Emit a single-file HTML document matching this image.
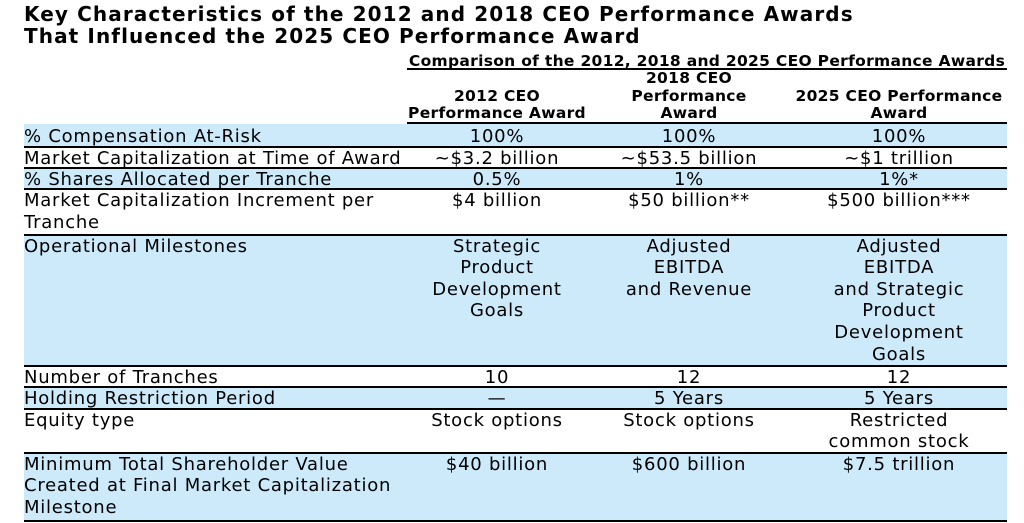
<!DOCTYPE html>
<html>
<head>
<meta charset="utf-8">
<style>
  html,body{margin:0;padding:0;background:#fff;}
  #c{position:relative;width:1024px;height:523px;overflow:hidden;background:#fff;
     font-family:"DejaVu Sans","Liberation Sans",sans-serif;color:#000;}
  .title{position:absolute;left:24px;top:4px;font-size:20px;font-weight:bold;
     line-height:21.6px;letter-spacing:1.1px;white-space:nowrap;}
  .hdr{position:absolute;font-size:15.5px;font-weight:bold;line-height:17.3px;
     letter-spacing:0.3px;white-space:nowrap;text-align:center;}
  .row{position:absolute;left:24px;width:983px;}
  .blue{background:#cdeafb;}
  .cell{position:absolute;top:1.2px;font-size:18px;line-height:21.6px;letter-spacing:0.75px;
     white-space:nowrap;}
  .lab{left:0px;}
  .c1{left:383px;width:180px;text-align:center;}
  .c2{left:563px;width:204px;text-align:center;}
  .c3{left:767px;width:216px;text-align:center;}
  .ln{position:absolute;height:2px;background:#000;}
</style>
</head>
<body>
<div id="c">
  <div class="title">Key Characteristics of the 2012 and 2018 CEO Performance Awards<br>That Influenced the 2025 CEO Performance Award</div>

  <div class="hdr" style="left:407px;width:600px;top:52.7px;">Comparison of the 2012, 2018 and 2025 CEO Performance Awards</div>
  <div class="ln" style="left:407px;width:600px;top:68.3px;"></div>

  <div class="hdr" style="left:407px;width:180px;top:70.3px;">&nbsp;<br>2012 CEO<br>Performance Award</div>
  <div class="hdr" style="left:587px;width:204px;top:70.3px;">2018 CEO<br>Performance<br>Award</div>
  <div class="hdr" style="left:791px;width:216px;top:70.3px;">&nbsp;<br>2025 CEO Performance<br>Award</div>
  <div class="ln" style="left:407px;width:600px;top:122.3px;"></div>

  <!-- Row 1 -->
  <div class="row blue" style="top:124.3px;height:22.7px;">
    <div class="cell lab" style="top:1.4px;">% Compensation At-Risk</div>
    <div class="cell c1" style="top:1.4px;">100%</div>
    <div class="cell c2" style="top:1.4px;">100%</div>
    <div class="cell c3" style="top:1.4px;">100%</div>
  </div>
  <!-- Row 2 -->
  <div class="row" style="top:147px;height:21px;">
    <div class="cell lab">Market Capitalization at Time of Award</div>
    <div class="cell c1">~$3.2 billion</div>
    <div class="cell c2">~$53.5 billion</div>
    <div class="cell c3">~$1 trillion</div>
  </div>
  <!-- Row 3 -->
  <div class="row blue" style="top:168px;height:21px;">
    <div class="cell lab">% Shares Allocated per Tranche</div>
    <div class="cell c1">0.5%</div>
    <div class="cell c2">1%</div>
    <div class="cell c3">1%*</div>
  </div>
  <!-- Row 4 -->
  <div class="row" style="top:189px;height:45.5px;">
    <div class="cell lab">Market Capitalization Increment per<br>Tranche</div>
    <div class="cell c1">$4 billion</div>
    <div class="cell c2">$50 billion**</div>
    <div class="cell c3">$500 billion***</div>
  </div>
  <!-- Row 5 -->
  <div class="row blue" style="top:234.5px;height:131.2px;">
    <div class="cell lab">Operational Milestones</div>
    <div class="cell c1">Strategic<br>Product<br>Development<br>Goals</div>
    <div class="cell c2">Adjusted<br>EBITDA<br>and Revenue</div>
    <div class="cell c3">Adjusted<br>EBITDA<br>and Strategic<br>Product<br>Development<br>Goals</div>
  </div>
  <!-- Row 6 -->
  <div class="row" style="top:365.7px;height:20.8px;">
    <div class="cell lab">Number of Tranches</div>
    <div class="cell c1">10</div>
    <div class="cell c2">12</div>
    <div class="cell c3">12</div>
  </div>
  <!-- Row 7 -->
  <div class="row blue" style="top:386.5px;height:22px;">
    <div class="cell lab">Holding Restriction Period</div>
    <div class="cell c1">—</div>
    <div class="cell c2">5 Years</div>
    <div class="cell c3">5 Years</div>
  </div>
  <!-- Row 8 -->
  <div class="row" style="top:408.5px;height:44.2px;">
    <div class="cell lab">Equity type</div>
    <div class="cell c1">Stock options</div>
    <div class="cell c2">Stock options</div>
    <div class="cell c3">Restricted<br>common stock</div>
  </div>
  <!-- Row 9 -->
  <div class="row blue" style="top:452.7px;height:68px;">
    <div class="cell lab">Minimum Total Shareholder Value<br>Created at Final Market Capitalization<br>Milestone</div>
    <div class="cell c1">$40 billion</div>
    <div class="cell c2">$600 billion</div>
    <div class="cell c3">$7.5 trillion</div>
  </div>

  <!-- row borders -->
  <div class="ln" style="left:24px;width:983px;top:146px;"></div>
  <div class="ln" style="left:24px;width:983px;top:167px;"></div>
  <div class="ln" style="left:24px;width:983px;top:188px;"></div>
  <div class="ln" style="left:24px;width:983px;top:233.5px;"></div>
  <div class="ln" style="left:24px;width:983px;top:364.7px;"></div>
  <div class="ln" style="left:24px;width:983px;top:385.5px;"></div>
  <div class="ln" style="left:24px;width:983px;top:407.5px;"></div>
  <div class="ln" style="left:24px;width:983px;top:451.7px;"></div>
  <div class="ln" style="left:24px;width:983px;top:519.7px;"></div>
</div>
</body>
</html>
